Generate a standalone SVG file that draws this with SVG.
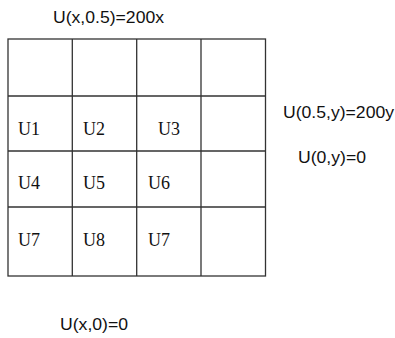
<svg xmlns="http://www.w3.org/2000/svg" width="395" height="338" viewBox="0 0 395 338">
<style>
.g{stroke:#333;stroke-width:1.3;fill:none}
.s{font-family:"Liberation Sans",Arial,sans-serif;font-size:16px;fill:#111}
.t{font-family:"Liberation Serif","Times New Roman",serif;font-size:18px;fill:#111}
</style>
<rect width="395" height="338" fill="#fff"/>
<g id="grid">
<rect class="g" x="8" y="39" width="257.5" height="237"/>
<path class="g" d="M72.3 39V276M136.7 39V276M201 39V276M8 96H265.5M8 151H265.5M8 207H265.5"/>
</g>
<g id="cells">
<text class="t" x="18" y="135">U1</text>
<text class="t" x="83" y="135">U2</text>
<text class="t" x="158" y="135">U3</text>
<text class="t" x="18" y="189">U4</text>
<text class="t" x="83" y="189">U5</text>
<text class="t" x="148" y="189">U6</text>
<text class="t" x="18" y="246">U7</text>
<text class="t" x="83" y="246">U8</text>
<text class="t" x="148" y="246">U7</text>
</g>
<g id="labels">
<text class="s" x="53" y="23" textLength="111" lengthAdjust="spacingAndGlyphs">U(x,0.5)=200x</text>
<text class="s" x="283" y="118" textLength="111" lengthAdjust="spacingAndGlyphs">U(0.5,y)=200y</text>
<text class="s" x="298" y="163" textLength="68" lengthAdjust="spacingAndGlyphs">U(0,y)=0</text>
<text class="s" x="60" y="330" textLength="68" lengthAdjust="spacingAndGlyphs">U(x,0)=0</text>
</g>
</svg>
